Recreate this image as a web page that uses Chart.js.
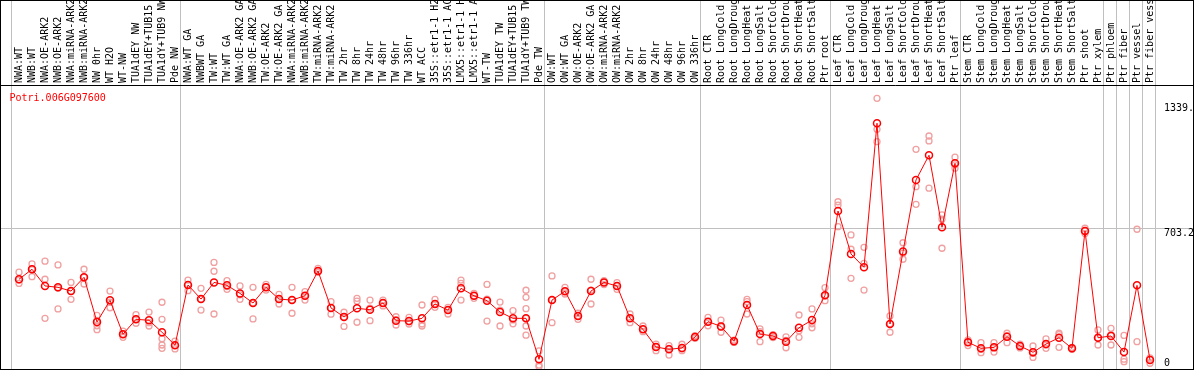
<!DOCTYPE html>
<html><head><meta charset="utf-8">
<script src="https://cdn.jsdelivr.net/npm/chart.js@4"></script>
<style>
html,body{margin:0;padding:0;background:#fff;}
#wrap{width:1194px;height:370px;box-sizing:border-box;border:1px solid #000;background:#fff;}
canvas{display:block;}
</style></head><body>
<div id="wrap"><canvas id="c" width="1192" height="368"></canvas></div>
<script>
const geneId = 'Potri.006G097600';
const categories = [
 'NWA:WT','NWB:WT','NWA:OE-ARK2','NWB:OE-ARK2','NWA:miRNA-ARK2','NWB:miRNA-ARK2','NW 0hr','WT H2O','WT-NW','TUA1dEY NW',
 'TUA1dEY+TUB15','TUA1dY+TUB9 NW','Pde NW','NWA:WT GA','NWBWT GA','TW:WT','TW:WT GA','NWA:OE-ARK2 GA','NWB:OE-ARK2 GA','TW:OE-ARK2',
 'TW:OE-ARK2 GA','NWA:miRNA-ARK2','NWB:miRNA-ARK2','TW:miRNA-ARK2','TW:miRNA-ARK2','TW 2hr','TW 8hr','TW 24hr','TW 48hr','TW 96hr',
 'TW 336hr','WT ACC','35S::etr1-1 H2','35S::etr1-1 AC','LMX5::etr1-1 H','LMX5::etr1-1 A','WT-TW','TUA1dEY TW','TUA1dEY+TUB15','TUA1dY+TUB9 TW',
 'Pde TW','OW:WT','OW:WT GA','OW:OE-ARK2','OW:OE-ARK2 GA','OW:miRNA-ARK2','OW:miRNA-ARK2','OW 2hr','OW 8hr','OW 24hr',
 'OW 48hr','OW 96hr','OW 336hr','Root CTR','Root LongCold','Root LongDroug','Root LongHeat','Root LongSalt','Root ShortCold','Root ShortDrou',
 'Root ShortHeat','Root ShortSalt','Ptr root','Leaf CTR','Leaf LongCold','Leaf LongDroug','Leaf LongHeat','Leaf LongSalt','Leaf ShortCold','Leaf ShortDrou',
 'Leaf ShortHeat','Leaf ShortSalt','Ptr leaf','Stem CTR','Stem LongCold','Stem LongDroug','Stem LongHeat','Stem LongSalt','Stem ShortCold','Stem ShortDrou',
 'Stem ShortHeat','Stem ShortSalt','Ptr shoot','Ptr xylem','Ptr phloem','Ptr fiber','Ptr vessel','Ptr fiber vess'
];
const means = [
 447,498,413,406,387,457,229,340,167,243,
 238,177,111,418,346,431,416,375,326,406,
 346,341,363,489,301,255,299,292,326,236,
 234,248,321,290,401,363,338,280,248,248,
 39,341,386,260,387,431,413,248,192,102,
 90,97,153,231,207,131,316,168,158,129,
 200,239,365,795,576,508,1242,219,588,953,
 1079,712,1038,126,95,100,154,107,75,117,
 149,95,693,149,158,76,416,36
];
const replicates = [
 [483,443,426],[525,498,460],[539,447,248],[520,402,296],[431,385,345],[498,457,423],[263,238,210,190],[387,330,302],[183,167,151],[267,243,223],
 [280,226,209],[330,243,144,112,95],[132,111,92],[443,420,389],[401,346,290],[533,488,270],[440,410,396],[413,368,345],[406,326,245],[421,406,392],
 [370,346,321],[406,341,274],[384,363,341],[503,489,483],[333,301,269],[279,255,207],[350,336,228],[341,300,236],[341,326,311],[256,240,214],
 [253,230,219],[316,219,209],[345,321,304],[304,290,270],[443,426,341],[375,363,350],[421,346,234],[331,290,209],[287,240,220],[391,355,297,248,209,162],
 [82,10,2],[464,341,226],[406,386,372],[274,260,243],[447,392,321],[440,431,420],[430,413,396],[270,248,226],[209,192,180],[117,102,83],
 [109,95,61],[116,92,83],[160,153,146],[253,231,210],[239,205,177],[137,131,125],[345,333,270],[194,180,129],[165,158,150],[154,135,98],
 [265,185,151],[296,220,200],[404,363,338],[842,825,715],[673,600,452],[610,528,392],[1369,1211,1148],[260,220,177],[633,580,549],[1109,919,829],
 [1177,1152,911],[775,753,605],[1069,1030,1013],[138,126,109],[124,90,73],[124,100,76],[172,160,124],[117,107,97],[107,70,49],[143,112,95],
 [172,165,100],[100,95,90],[707,693,680],[189,148,112],[197,165,112],[161,40,27],[702,129],[47,40,19]
];
const yTickValues = [0, 703.2, 1339];
const yTickLabels = ['0', '703.2', '1339.'];
const groupBreaks = [0, 13, 41, 53, 63, 73, 84, 85, 86, 87, 88];

// layout constants (pixels)
const CW = 1192, PX0 = 18, STEP = 13;
const xMin = -PX0 / STEP, xMax = xMin + CW / STEP;
const LINE_SHIFT = -0.615;
const yMin = -10.19, yMax = 1436.9;
const MONO = 'DejaVu Sans Mono';

const meanData = means.map((v, i) => ({x: i, y: v}));
const repData = [];
replicates.forEach((arr, i) => arr.forEach(v => repData.push({x: i, y: v})));

const genePlugin = {
  id: 'geneLabel',
  afterDraw(chart) {
    const c = chart.ctx, a = chart.chartArea;
    c.save();
    c.font = '10px "' + MONO + '"';
    c.fillStyle = '#ff0000';
    c.textBaseline = 'alphabetic';
    c.textAlign = 'left';
    c.fillText(geneId, a.left + 8.5, a.top + 16);
    c.restore();
  }
};

new Chart(document.getElementById('c'), {
  type: 'line',
  data: {
    datasets: [
      {
        label: 'mean', data: meanData, xAxisID: 'x', yAxisID: 'y',
        borderColor: '#ff0000', borderWidth: 1, tension: 0, fill: false,
        pointRadius: 3.5, pointBorderWidth: 1.5, pointBorderColor: '#ff0000',
        pointBackgroundColor: 'rgba(0,0,0,0)', order: 0
      },
      {
        label: 'replicates', data: repData, xAxisID: 'x', yAxisID: 'y',
        showLine: false, pointRadius: 3, pointBorderWidth: 1.3,
        pointBorderColor: '#f0a0a0', pointBackgroundColor: 'rgba(0,0,0,0)', order: 1
      }
    ]
  },
  options: {
    responsive: false, animation: false, devicePixelRatio: 1,
    layout: {padding: 0, autoPadding: false},
    plugins: {legend: {display: false}, tooltip: {enabled: false}, title: {display: false}},
    scales: {
      x: {type: 'linear', display: false, min: xMin, max: xMax},
      xl: {
        type: 'linear', position: 'top', weight: 2, min: xMin, max: xMax, bounds: 'data',
        afterBuildTicks: s => { s.ticks = categories.map((c, i) => ({value: i})); },
        afterFit: s => { s.height = 84; s.paddingLeft = 0; s.paddingRight = 0; },
        grid: {display: false, drawTicks: false},
        border: {display: true, color: '#000', width: 1},
        ticks: {
          autoSkip: false, maxRotation: 90, minRotation: 90, padding: 2, labelOffset: 12, color: '#000',
          font: {family: MONO, size: 10}, callback: (v, i) => categories[i]
        }
      },
      xg: {
        type: 'linear', position: 'top', weight: 1, min: xMin, max: xMax, bounds: 'data',
        afterBuildTicks: s => { s.ticks = groupBreaks.map(k => ({value: k + LINE_SHIFT})); },
        afterFit: s => { s.height = 0; s.paddingLeft = 0; s.paddingRight = 0; },
        grid: {display: true, color: '#c0c0c0', lineWidth: 1, drawTicks: true, tickLength: 84, tickColor: '#c0c0c0'},
        border: {display: false},
        ticks: {display: false}
      },
      y: {
        type: 'linear', position: 'right', min: yMin, max: yMax,
        afterBuildTicks: s => { s.ticks = yTickValues.map(v => ({value: v})); },
        afterFit: s => { s.width = 0; s.paddingTop = 0; s.paddingBottom = 0; },
        grid: {drawTicks: false, color: c => (c.tick && c.tick.value === 703.2) ? '#c0c0c0' : 'rgba(0,0,0,0)'},
        border: {display: false},
        ticks: {
          mirror: true, crossAlign: 'far', padding: 1, color: '#000',
          font: {family: MONO, size: 10, lineHeight: 0.8},
          callback: (v, i) => i === 0 ? [yTickLabels[i], ''] : ['', yTickLabels[i]]
        }
      }
    }
  },
  plugins: [genePlugin]
});
</script>
</body></html>
